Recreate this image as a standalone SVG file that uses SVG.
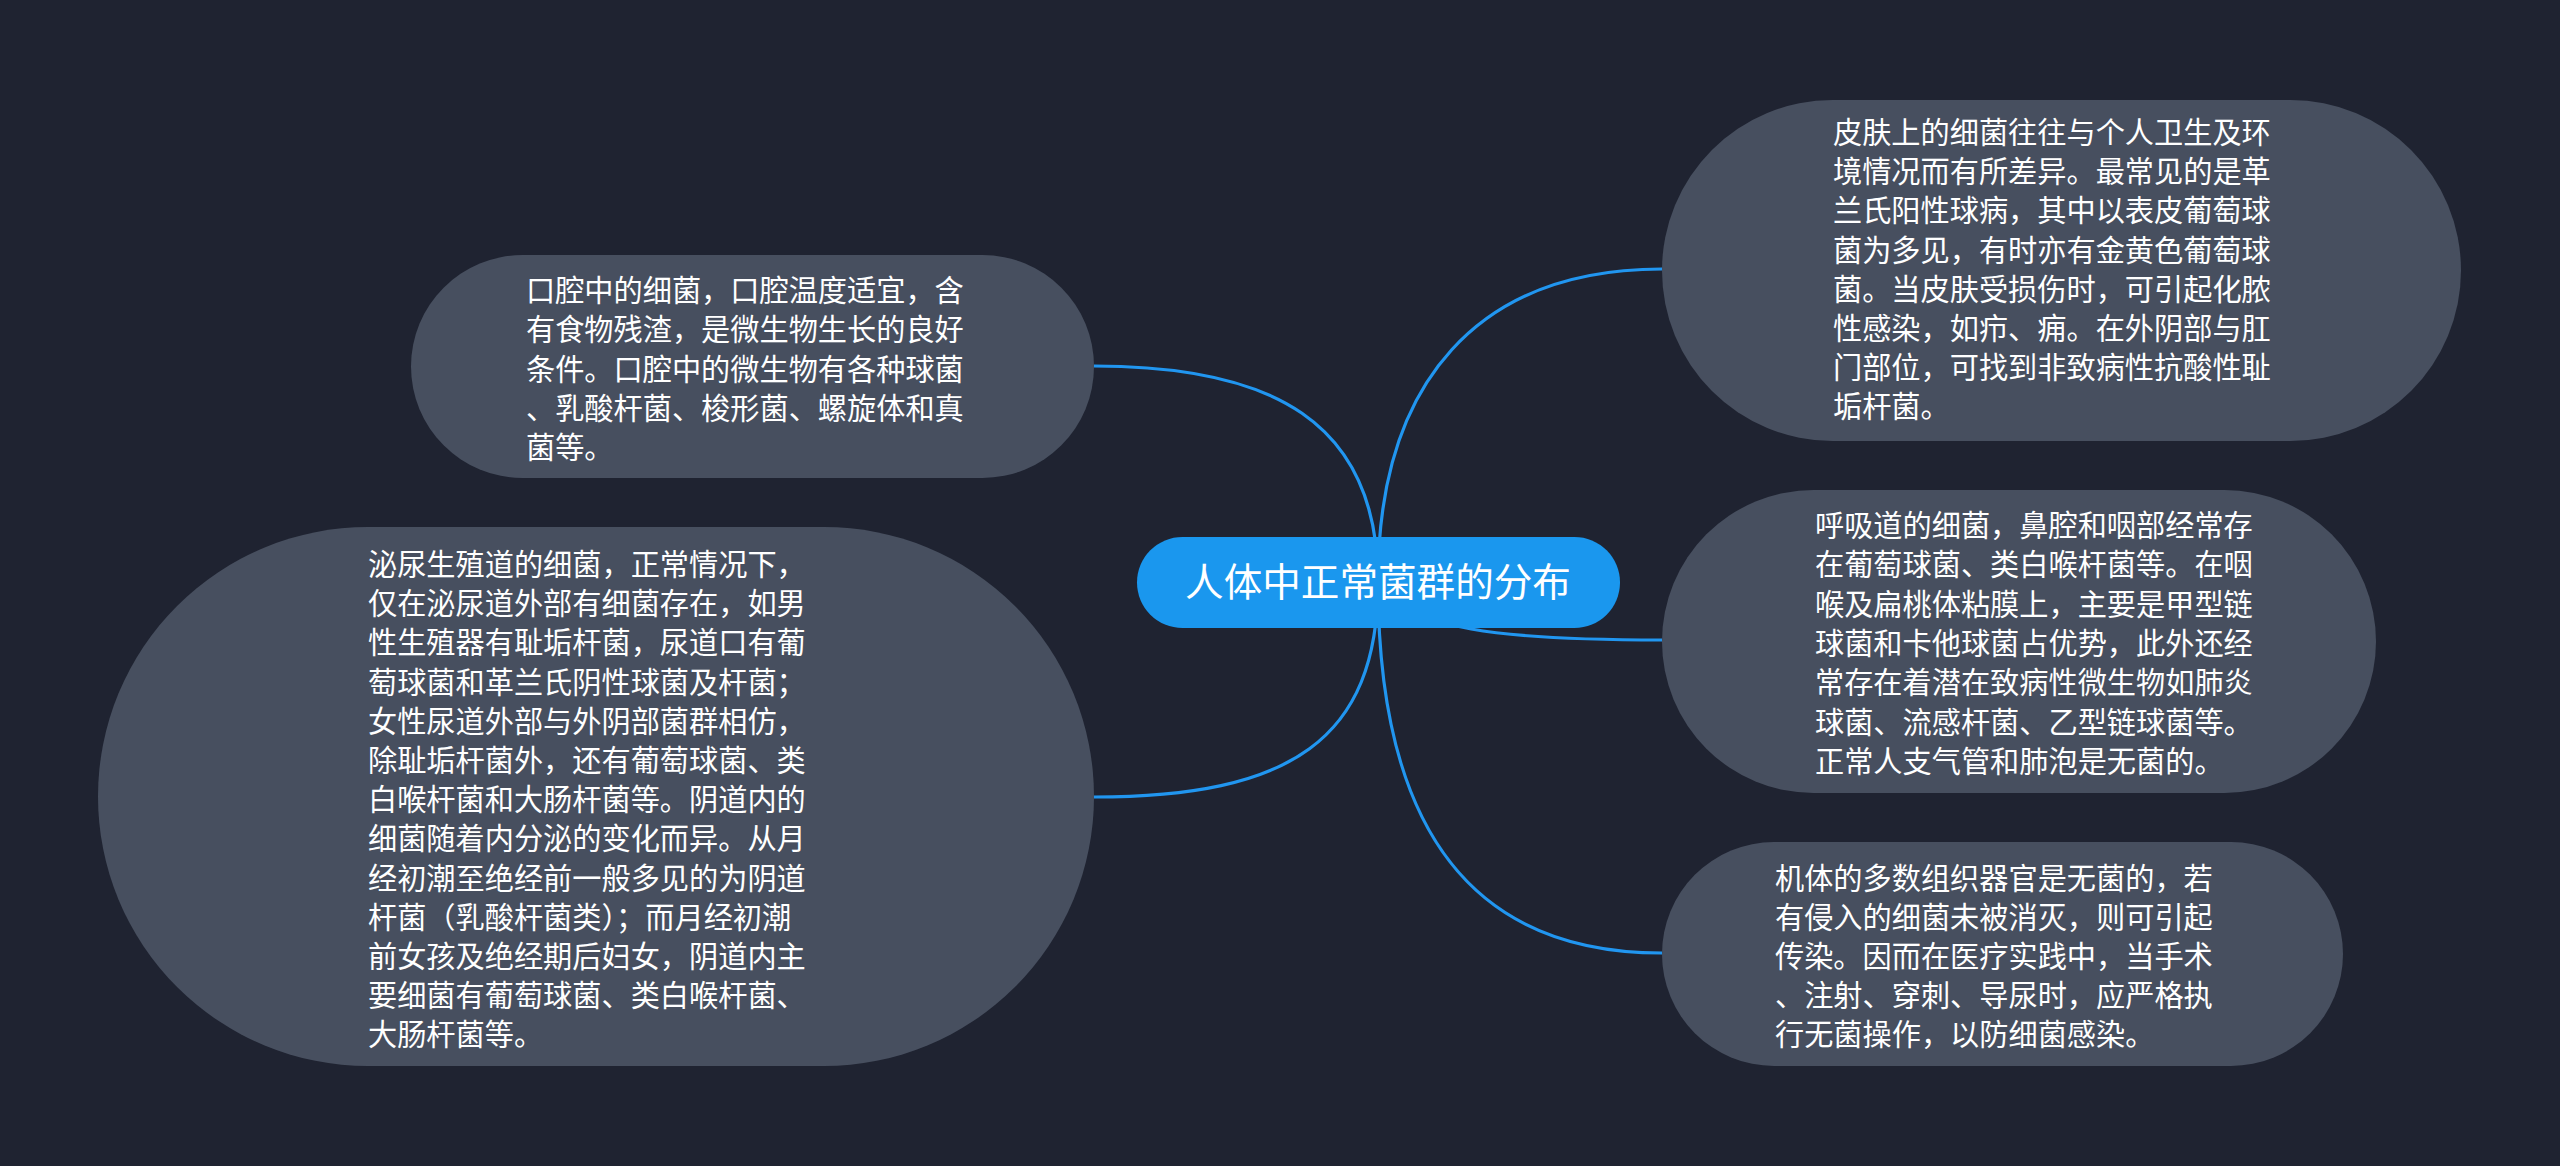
<svg xmlns="http://www.w3.org/2000/svg" width="2560" height="1166" viewBox="0 0 2560 1166">
<style>
.bg{fill:#1f2331}
.node rect{fill:#474f5f}
.root rect{fill:#1a97ee}
.t{font-family:"Noto Sans CJK SC","Noto Sans",sans-serif;font-size:29.2px;fill:#ffffff}
.rt{font-family:"Noto Sans CJK SC","Noto Sans",sans-serif;font-size:38.6px;fill:#ffffff;text-anchor:middle}
.edge{fill:none;stroke:#2196f0;stroke-width:3.2}
</style>
<rect class="bg" x="0" y="0" width="2560" height="1166"/>
<g id="connectors">
<path class="edge" d="M1378 582 C1378 420 1270 366 1094 366"/>
<path class="edge" d="M1378 582 C1378 740 1290 797 1094 797"/>
<path class="edge" d="M1378 582 C1378 380 1480 269 1662 269"/>
<path class="edge" d="M1378 582 C1410 630 1500 640 1662 640"/>
<path class="edge" d="M1378 582 C1378 840 1480 953 1662 953"/>
</g>
<g id="root" class="root">
<rect x="1137" y="537" width="483" height="91" rx="45.5"/>
<text class="rt" x="1378" y="596">人体中正常菌群的分布</text>
</g>
<g id="node-oral" class="node">
<rect x="411" y="255" width="683" height="223" rx="111.5"/>
<text class="t" x="526" y="301"><tspan x="526">口腔中的细菌，口腔温度适宜，含</tspan><tspan x="526" dy="39.3">有食物残渣，是微生物生长的良好</tspan><tspan x="526" dy="39.3">条件。口腔中的微生物有各种球菌</tspan><tspan x="526" dy="39.3">、乳酸杆菌、梭形菌、螺旋体和真</tspan><tspan x="526" dy="39.3">菌等。</tspan></text>
</g>
<g id="node-urogenital" class="node">
<rect x="98" y="527" width="996" height="539" rx="270"/>
<text class="t" x="368" y="575"><tspan x="368">泌尿生殖道的细菌，正常情况下，</tspan><tspan x="368" dy="39.2">仅在泌尿道外部有细菌存在，如男</tspan><tspan x="368" dy="39.2">性生殖器有耻垢杆菌，尿道口有葡</tspan><tspan x="368" dy="39.2">萄球菌和革兰氏阴性球菌及杆菌；</tspan><tspan x="368" dy="39.2">女性尿道外部与外阴部菌群相仿，</tspan><tspan x="368" dy="39.2">除耻垢杆菌外，还有葡萄球菌、类</tspan><tspan x="368" dy="39.2">白喉杆菌和大肠杆菌等。阴道内的</tspan><tspan x="368" dy="39.2">细菌随着内分泌的变化而异。从月</tspan><tspan x="368" dy="39.2">经初潮至绝经前一般多见的为阴道</tspan><tspan x="368" dy="39.2">杆菌（乳酸杆菌类）；而月经初潮</tspan><tspan x="368" dy="39.2">前女孩及绝经期后妇女，阴道内主</tspan><tspan x="368" dy="39.2">要细菌有葡萄球菌、类白喉杆菌、</tspan><tspan x="368" dy="39.2">大肠杆菌等。</tspan></text>
</g>
<g id="node-skin" class="node">
<rect x="1662" y="100" width="799" height="341" rx="170.5"/>
<text class="t" x="1833" y="143"><tspan x="1833">皮肤上的细菌往往与个人卫生及环</tspan><tspan x="1833" dy="39.2">境情况而有所差异。最常见的是革</tspan><tspan x="1833" dy="39.2">兰氏阳性球病，其中以表皮葡萄球</tspan><tspan x="1833" dy="39.2">菌为多见，有时亦有金黄色葡萄球</tspan><tspan x="1833" dy="39.2">菌。当皮肤受损伤时，可引起化脓</tspan><tspan x="1833" dy="39.2">性感染，如疖、痈。在外阴部与肛</tspan><tspan x="1833" dy="39.2">门部位，可找到非致病性抗酸性耻</tspan><tspan x="1833" dy="39.2">垢杆菌。</tspan></text>
</g>
<g id="node-respiratory" class="node">
<rect x="1662" y="490" width="714" height="303" rx="151.5"/>
<text class="t" x="1815" y="536"><tspan x="1815">呼吸道的细菌，鼻腔和咽部经常存</tspan><tspan x="1815" dy="39.3">在葡萄球菌、类白喉杆菌等。在咽</tspan><tspan x="1815" dy="39.3">喉及扁桃体粘膜上，主要是甲型链</tspan><tspan x="1815" dy="39.3">球菌和卡他球菌占优势，此外还经</tspan><tspan x="1815" dy="39.3">常存在着潜在致病性微生物如肺炎</tspan><tspan x="1815" dy="39.3">球菌、流感杆菌、乙型链球菌等。</tspan><tspan x="1815" dy="39.3">正常人支气管和肺泡是无菌的。</tspan></text>
</g>
<g id="node-sterile" class="node">
<rect x="1662" y="842" width="681" height="224" rx="112"/>
<text class="t" x="1775" y="889"><tspan x="1775">机体的多数组织器官是无菌的，若</tspan><tspan x="1775" dy="39">有侵入的细菌未被消灭，则可引起</tspan><tspan x="1775" dy="39">传染。因而在医疗实践中，当手术</tspan><tspan x="1775" dy="39">、注射、穿刺、导尿时，应严格执</tspan><tspan x="1775" dy="39">行无菌操作，以防细菌感染。</tspan></text>
</g>
</svg>
